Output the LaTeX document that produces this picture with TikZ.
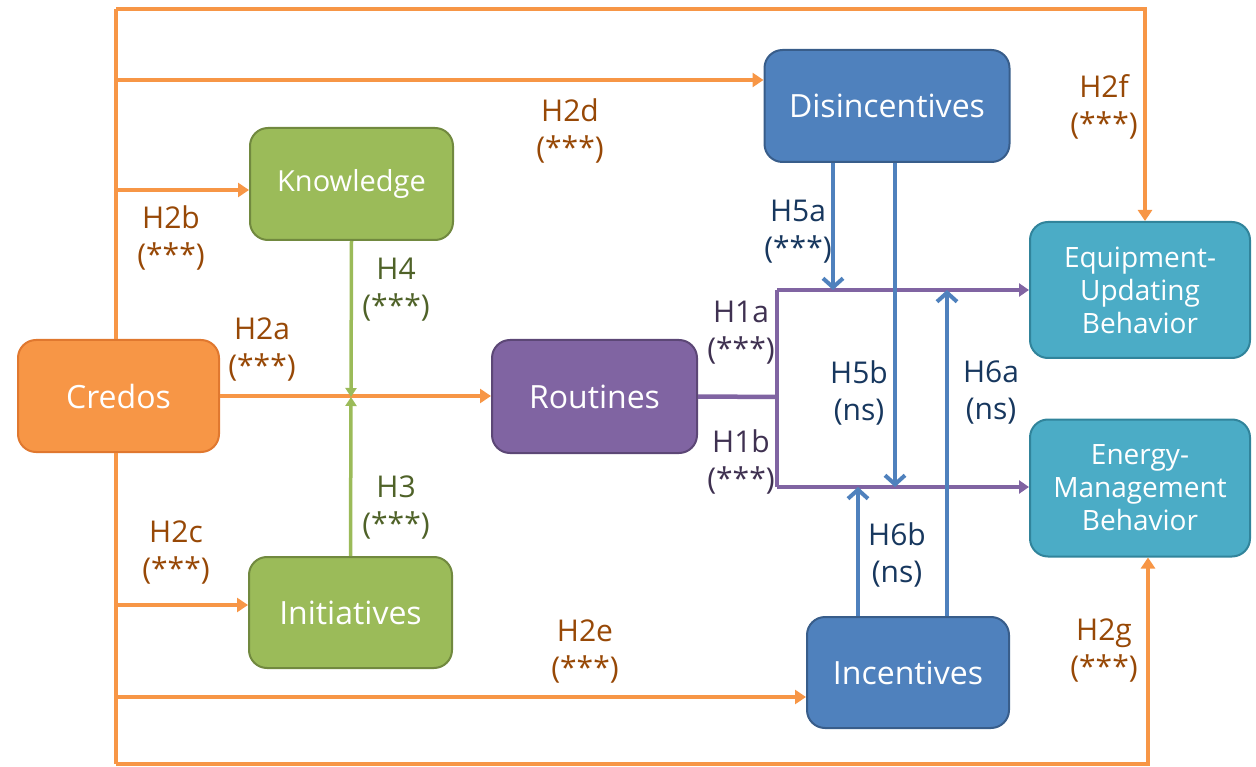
\documentclass[tikz,border=0pt]{standalone}
\usepackage{fontspec}
\setmainfont{Open Sans}
\usetikzlibrary{arrows.meta,calc}
\definecolor{corg}{HTML}{F79646}
\definecolor{corgd}{HTML}{E0782F}
\definecolor{cgrn}{HTML}{9BBB59}
\definecolor{cgrnd}{HTML}{71893F}
\definecolor{cpur}{HTML}{8064A2}
\definecolor{cpurd}{HTML}{5C4776}
\definecolor{cblu}{HTML}{4F81BD}
\definecolor{cblud}{HTML}{385D8A}
\definecolor{cteal}{HTML}{4BACC6}
\definecolor{cteald}{HTML}{31849B}
\definecolor{torg}{HTML}{974806}
\definecolor{tgrn}{HTML}{4F6228}
\definecolor{tpur}{HTML}{3F3151}
\definecolor{tblu}{HTML}{17375E}
\begin{document}
\begin{tikzpicture}[x=1pt,y=-1pt,
  box/.style={rectangle, rounded corners=18pt, draw, line width=2pt, text=white, align=center, inner sep=0pt},
  bigtxt/.style={font=\fontsize{32}{36}\selectfont},
  behtxt/.style={font=\fontsize{28}{33}\selectfont},
  lbl/.style={align=center, inner sep=0pt, font=\fontsize{30}{37}\selectfont},
  oline/.style={draw=corg, line width=4.5pt},
  oarr/.style={oline, -{Triangle[length=11pt,width=14pt]}},
  garr/.style={draw=cgrn, line width=3.5pt, -{Triangle[length=9pt,width=11pt]}},
  pline/.style={draw=cpur, line width=4.5pt},
  parr/.style={pline, -{Triangle[length=10pt,width=13pt]}},
  barr/.style={draw=cblu, line width=4pt, -{Straight Barb[length=9pt,width=20pt]}}
]
\useasboundingbox (0,0) rectangle (1256,767);

% coordinates
\coordinate (tl) at (116,9);
\coordinate (tr) at (1145,9);
\coordinate (bl) at (116,764);
\coordinate (br) at (1148,764);
\coordinate (d0) at (116,80);
\coordinate (k0) at (116,190);
\coordinate (i0) at (116,605);
\coordinate (n0) at (116,697);
\coordinate (pj) at (777,397);
\coordinate (pa) at (777,290);
\coordinate (pb) at (777,487);
\coordinate (h5a) at (833,290);
\coordinate (h5b) at (895,487);
\coordinate (h6b) at (858,487);
\coordinate (h6a) at (947,290);
\coordinate (gm) at (351,397);

% nodes
\node[box, bigtxt, fill=corg, draw=corgd, minimum width=201pt, minimum height=112pt] (credos) at (118.5,396) {Credos};
\node[box, fill=cgrn, draw=cgrnd, minimum width=203pt, minimum height=112pt, font=\fontsize{29}{33}\selectfont] (know) at (351.5,184) {Knowledge};
\node[box, bigtxt, fill=cgrn, draw=cgrnd, minimum width=203pt, minimum height=111pt] (init) at (350.5,612.5) {Initiatives};
\node[box, bigtxt, fill=cpur, draw=cpurd, minimum width=205pt, minimum height=113pt] (rout) at (594.5,396.5) {Routines};
\node[box, bigtxt, fill=cblu, draw=cblud, minimum width=245pt, minimum height=112pt] (dis) at (887,106) {Disincentives};
\node[box, bigtxt, fill=cblu, draw=cblud, minimum width=202pt, minimum height=111pt] (inc) at (908,672.5) {Incentives};
\node[box, behtxt, fill=cteal, draw=cteald, minimum width=220pt, minimum height=136pt] (equip) at (1140,290) {Equipment-\\Updating\\Behavior};
\node[box, behtxt, fill=cteal, draw=cteald, minimum width=220pt, minimum height=137pt] (energy) at (1140,488) {Energy-\\Management\\Behavior};

% orange connectors
\draw[oline] (tl) -- (credos.north -| tl);
\draw[oline] (credos.south -| bl) -- (bl);
\draw[oarr] (tl) -- (tr) -- (tr |- equip.north);
\draw[oarr] (bl) -- (br) -- (br |- energy.south);
\draw[oarr] (d0) -- (d0 -| dis.west);
\draw[oarr] (k0) -- (k0 -| know.west);
\draw[oarr] (i0) -- (i0 -| init.west);
\draw[oarr] (n0) -- (n0 -| inc.west);
\draw[oarr] (credos.east) -- (credos.east -| rout.west);

% green
\draw[garr] (know.south) -- (gm);
\draw[garr] (init.north) -- (gm);

% purple
\draw[pline] (rout.east) -- (pj);
\draw[pline] (pb) -- (pa);
\draw[parr] (pa) -- (pa -| equip.west);
\draw[parr] (pb) -- (pb -| energy.west);

% blue
\draw[barr] (h5a |- dis.south) -- (h5a);
\draw[barr] (h5b |- dis.south) -- (h5b);
\draw[barr] (h6b |- inc.north) -- (h6b);
\draw[barr] (h6a |- inc.north) -- (h6a);

% labels
\node[lbl, text=torg] (l2b) at (171,238) {H2b\\(***)};
\node[lbl, text=torg] (l2a) at (262,350) {H2a\\(***)};
\node[lbl, text=torg] (l2c) at (176,553) {H2c\\(***)};
\node[lbl, text=torg] (l2d) at (570,131) {H2d\\(***)};
\node[lbl, text=torg] (l2e) at (585,652) {H2e\\(***)};
\node[lbl, text=torg] (l2f) at (1104,107) {H2f\\(***)};
\node[lbl, text=torg] (l2g) at (1104,651) {H2g\\(***)};
\node[lbl, text=tgrn] (l4) at (396,290) {H4\\(***)};
\node[lbl, text=tgrn] (l3) at (396,508) {H3\\(***)};
\node[lbl, text=tpur] (l1a) at (741,333) {H1a\\(***)};
\node[lbl, text=tpur] (l1b) at (741,462) {H1b\\(***)};
\node[lbl, text=tblu] (l5a) at (798,232) {H5a\\(***)};
\node[lbl, text=tblu] (l5b) at (859,393) {H5b\\(ns)};
\node[lbl, text=tblu] (l6a) at (991,393) {H6a\\(ns)};
\node[lbl, text=tblu] (l6b) at (897,555) {H6b\\(ns)};
\end{tikzpicture}
\end{document}
